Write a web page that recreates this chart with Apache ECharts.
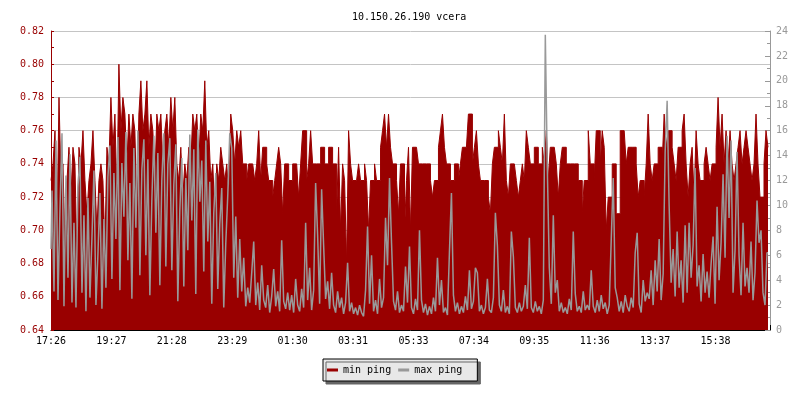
<!DOCTYPE html>
<html>
<head>
<meta charset="utf-8">
<script src="https://cdn.jsdelivr.net/npm/echarts@6/dist/echarts.min.js"></script>
<style>
html,body{margin:0;padding:0;background:#fff;}
#chart{width:800px;height:400px;}
</style>
</head>
<body>
<div id="chart"></div>
<script>
// x tick labels (one every ~30.25 samples of 4 minutes)
const timeLabels = ['17:26','19:27','21:28','23:29','01:30','03:31','05:33','07:34','09:35','11:36','13:37','15:38'];
const labelStep = 30.25;

// min ping, in hundredths (73 = 0.73), left axis
const minPing = [
73,74,76,70,78,73,74,69,73,75,72,75,74,68,75,74,76,73,71,73,74,76,73,70,73,74,73,69,75,74,
78,75,77,72,80,76,78,77,74,77,75,77,76,71,77,79,76,77,79,75,77,76,73,77,76,77,74,76,77,75,
78,76,78,74,73,75,72,74,73,75,74,77,76,77,74,77,76,79,75,76,73,74,71,74,73,75,74,73,74,72,
77,76,74,76,75,76,74,74,73,74,74,74,73,74,76,73,75,75,74,73,73,72,73,74,75,74,71,74,74,73,
73,74,74,74,72,74,76,76,73,74,76,74,74,74,74,75,75,74,74,75,75,74,74,71,75,70,74,73,68,76,
74,73,73,73,74,73,73,74,73,70,73,73,74,73,73,75,76,77,75,77,75,74,74,73,71,74,74,70,73,75,
70,75,75,75,74,74,74,74,74,74,73,72,73,73,75,76,77,75,74,74,73,73,74,74,73,74,75,75,75,77,
77,74,75,76,74,73,73,73,73,72,71,74,75,75,76,75,74,77,73,72,74,74,74,73,72,73,74,73,76,75,
74,74,75,75,74,74,75,74,76,73,75,75,75,74,72,74,75,75,74,74,74,74,74,74,73,73,71,73,73,76,
74,74,73,76,76,74,76,75,70,72,72,74,74,71,71,76,76,76,74,75,75,75,75,74,72,73,73,72,74,77,
74,73,74,74,75,75,74,77,75,76,76,75,74,73,75,75,76,77,74,72,74,75,72,76,74,73,73,74,75,74,
73,74,74,75,78,75,77,74,76,74,76,74,73,74,75,76,74,75,76,75,74,73,74,77,74,72,72,74,76,75
];

// max ping, right axis
const maxPing = [
6.5,11.2,3.1,15.2,2.4,9.8,15.8,1.9,12.4,4.2,14.1,2.2,8.6,1.8,11.5,13.9,3.0,9.2,1.5,10.6,2.6,7.4,12.8,2.0,6.1,11.0,1.7,8.9,3.4,12.3,
14.8,4.1,12.6,7.3,15.5,3.2,13.4,9.1,15.9,5.6,11.8,2.5,14.6,8.2,16.0,4.4,12.9,15.3,6.0,13.7,2.8,10.5,15.6,7.8,14.2,3.6,12.1,15.8,5.1,13.3,
15.4,4.8,11.7,14.9,2.3,9.6,13.8,3.5,12.2,6.4,15.7,8.8,14.5,2.9,16.1,10.3,13.6,4.7,15.2,7.1,11.9,2.1,9.4,12.6,3.3,8.5,11.4,1.8,6.9,10.8,
15.8,14.6,4.2,9.1,2.6,7.3,3.1,5.8,1.9,3.4,2.2,4.6,7.1,2.0,3.8,1.6,5.2,2.4,1.8,3.6,1.4,2.7,4.9,1.9,3.1,1.5,7.2,2.3,1.7,3.0,
1.6,2.8,1.4,4.1,2.0,1.5,3.3,1.8,8.6,2.4,5.0,1.6,3.2,11.8,7.6,2.1,11.3,6.8,2.5,3.9,1.7,4.6,2.0,1.4,3.1,1.8,2.6,1.3,2.2,5.4,
1.5,2.2,1.3,1.8,1.2,2.0,1.4,1.1,3.2,8.3,2.1,6.0,1.5,2.4,1.3,4.1,1.8,2.6,9.0,5.2,12.2,7.0,2.3,1.6,3.1,1.4,2.0,1.5,5.1,2.2,
6.7,1.8,1.3,2.5,1.6,8.0,2.4,1.4,2.1,1.2,1.9,1.3,2.6,1.5,5.8,2.0,4.0,1.4,1.8,1.2,6.3,11.0,2.8,1.5,2.2,1.3,1.9,1.4,2.7,1.6,
4.8,1.7,2.3,5.0,4.6,1.5,2.0,1.3,1.8,4.1,1.6,1.4,2.6,9.4,6.8,2.0,1.5,3.2,1.4,1.9,1.3,7.9,5.9,1.8,1.4,2.2,1.5,1.9,3.6,1.7,
7.4,1.8,1.4,2.3,1.5,1.9,1.3,2.4,23.7,13.0,5.0,2.1,9.2,3.0,4.0,1.5,2.2,1.4,1.8,1.3,2.5,1.6,7.9,2.9,1.5,1.9,1.4,3.1,1.6,2.0,
1.6,4.8,1.9,1.4,2.4,1.5,2.8,1.7,2.2,1.3,2.0,7.2,12.2,3.4,2.6,1.5,2.3,1.4,2.8,1.9,1.5,2.6,1.8,6.2,7.8,2.1,1.4,4.0,2.3,3.0,
2.5,4.8,2.0,5.6,3.1,7.3,2.4,4.5,14.3,18.4,10.0,3.8,6.5,2.7,7.9,3.4,5.6,2.2,8.4,3.0,8.6,4.2,6.8,13.0,3.5,5.2,2.3,6.1,3.0,4.7,
2.6,5.3,7.5,2.1,9.9,4.0,7.0,12.5,5.8,15.6,9.0,15.2,3.0,6.4,14.3,6.0,2.8,8.6,3.5,5.0,3.0,7.1,2.4,4.6,10.4,7.0,8.0,3.0,2.0,6.2
];

const RED = '#990000';
const GRAY = '#999999';
const FONT = 'DejaVu Sans Mono';

const minData = minPing.map((v, i) => [i, v]);
const maxData = maxPing.map((v, i) => [i, v]);

const chart = echarts.init(document.getElementById('chart'), null, {renderer: 'canvas'});
chart.setOption({
  animation: false,
  backgroundColor: '#ffffff',
  title: {
    text: '10.150.26.190 vcera',
    left: 347,
    top: 7,
    textStyle: {fontFamily: FONT, fontSize: 10, fontWeight: 'normal', color: '#000'}
  },
  legend: {
    left: 323,
    top: 359,
    padding: [6, 15, 6, 4],
    itemGap: 7,
    itemWidth: 11,
    itemHeight: 3,
    icon: 'rect',
    backgroundColor: '#e8e8e8',
    borderColor: '#000',
    borderWidth: 1,
    shadowColor: '#666666',
    shadowBlur: 0,
    shadowOffsetX: 3,
    shadowOffsetY: 3,
    textStyle: {fontFamily: FONT, fontSize: 10, color: '#000'},
    data: ['min ping', 'max ping']
  },
  grid: {left: 51, right: 30, top: 31, bottom: 70, containLabel: false},
  xAxis: {
    type: 'value',
    min: 0,
    max: minPing.length,
    interval: labelStep,
    axisLine: {show: true, lineStyle: {color: '#000', width: 1}},
    axisTick: {show: true, inside: true, length: 5, lineStyle: {color: '#000'}},
    axisLabel: {
      fontFamily: FONT, fontSize: 10, color: '#000', margin: 6,
      formatter: function (v) {
        const k = Math.round(v / labelStep);
        if (Math.abs(v - k * labelStep) < 0.01 && k < timeLabels.length) return timeLabels[k];
        return '';
      }
    },
    splitLine: {show: false}
  },
  yAxis: [
    {
      type: 'value',
      position: 'left',
      min: 64,
      max: 82,
      interval: 2,
      axisLine: {show: true, lineStyle: {color: RED, width: 1}},
      axisTick: {show: true, inside: true, length: 3, lineStyle: {color: RED}},
      minorTick: {show: true, splitNumber: 2, length: 3, lineStyle: {color: RED}},
      axisLabel: {
        fontFamily: FONT, fontSize: 10, color: RED, margin: 7,
        formatter: function (v) { return (v / 100).toFixed(2); }
      },
      splitLine: {show: true, lineStyle: {color: '#c4c4c4', width: 1}}
    },
    {
      type: 'value',
      position: 'right',
      min: 0,
      max: 24,
      interval: 2,
      axisLine: {show: true, lineStyle: {color: GRAY, width: 1}},
      axisTick: {show: true, inside: true, length: 5, lineStyle: {color: GRAY}},
      minorTick: {show: true, splitNumber: 2, length: 3, lineStyle: {color: GRAY}},
      axisLabel: {fontFamily: FONT, fontSize: 10, color: GRAY, margin: 6},
      splitLine: {show: false}
    }
  ],
  series: [
    {
      name: 'min ping',
      type: 'line',
      yAxisIndex: 0,
      step: 'end',
      data: minData,
      symbol: 'none',
      color: RED,
      lineStyle: {color: RED, width: 1},
      areaStyle: {color: RED, opacity: 1, origin: 'start'},
      z: 2
    },
    {
      name: 'max ping',
      type: 'line',
      yAxisIndex: 1,
      step: 'middle',
      data: maxData,
      symbol: 'none',
      color: GRAY,
      lineStyle: {color: GRAY, width: 1.5},
      z: 3
    }
  ]
});
</script>
</body>
</html>
